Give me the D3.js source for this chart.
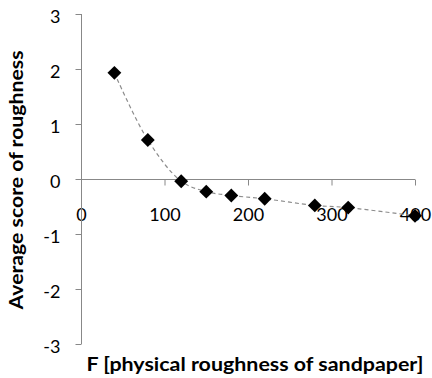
<!DOCTYPE html>
<html>
<head>
<meta charset="utf-8">
<script src="https://cdn.jsdelivr.net/npm/d3@7"></script>
<style>
  body { margin: 0; background: #fff; }
  text { font-family: Lato, "Open Sans", sans-serif; fill: #000; }
</style>
</head>
<body>
<div id="chart"></div>
<script>
// sandpaper grit vs average roughness score
const gritValues = [40, 80, 120, 150, 180, 220, 280, 320, 400];
const scoreValues = [1.93, 0.71, -0.04, -0.23, -0.3, -0.36, -0.48, -0.52, -0.67];
const xTicks = [0, 100, 200, 300, 400];
const yTicks = [-3, -2, -1, 0, 1, 2, 3];

const width = 432, height = 378;

const svg = d3.select('#chart').append('svg')
    .attr('width', width)
    .attr('height', height);

const x = d3.scaleLinear().domain([0, 400]).range([81, 415]);
const y = d3.scaleLinear().domain([-3, 3]).range([344, 14]);

const axisColor = '#888888';
// plain hyphen for negatives, like the original
const fmt = d => String(d);

// x axis sits at y = 0
const xAxis = d3.axisBottom(x).tickValues(xTicks).tickSize(6).tickFormat(fmt);
const gx = svg.append('g')
    .attr('transform', 'translate(0,' + (Math.round(y(0)) + 0.5) + ')')
    .call(xAxis);
gx.select('.domain').attr('stroke', axisColor).attr('d', 'M' + x(0) + ',0H' + x(400));
gx.selectAll('.tick line').attr('stroke', axisColor);
gx.selectAll('.tick').filter(d => d === 0).select('line').remove();
gx.selectAll('.tick text')
    .attr('y', 42 - 0.5)
    .attr('dy', 0)
    .style('font-size', '18px');

// x tick labels go under the y axis line
gx.lower();

const yAxis = d3.axisLeft(y).tickValues(yTicks).tickSize(6).tickFormat(fmt);
const gy = svg.append('g')
    .attr('transform', 'translate(' + (Math.round(x(0)) + 0.5) + ',0)')
    .call(yAxis);
gy.select('.domain').attr('stroke', axisColor).attr('d', 'M0,' + y(3) + 'V' + y(-3));
gy.selectAll('.tick line').attr('stroke', axisColor);
gy.selectAll('.tick text')
    .attr('x', -21)
    .attr('dy', 8)
    .style('font-size', '18px')
    .style('text-anchor', 'end');

svg.selectAll('.domain').attr('stroke-width', 1);

// dashed smoothed line
const pts = gritValues.map((g, i) => [g, scoreValues[i]]);
const line = d3.line()
    .x(d => x(d[0]))
    .y(d => y(d[1]))
    .curve(d3.curveCatmullRom.alpha(0.5));

svg.append('path')
    .datum(pts)
    .attr('d', line)
    .attr('fill', 'none')
    .attr('stroke', '#8c8c8c')
    .attr('stroke-width', 1.2)
    .attr('stroke-dasharray', '4,3');

// diamond markers
svg.selectAll('.pt')
    .data(pts)
    .enter().append('path')
    .attr('class', 'pt')
    .attr('d', d3.symbol().type(d3.symbolSquare).size(96))
    .attr('transform', d => 'translate(' + x(d[0]) + ',' + y(d[1]) + ') rotate(45)')
    .attr('fill', '#000');

// axis titles
svg.append('text')
    .attr('x', 255)
    .attr('y', 371)
    .attr('text-anchor', 'middle')
    .attr('textLength', 337)
    .attr('lengthAdjust', 'spacingAndGlyphs')
    .style('font-size', '18px')
    .style('font-weight', 'bold')
    .text('F [physical roughness of sandpaper]');

svg.append('text')
    .attr('transform', 'translate(23,180) rotate(-90)')
    .attr('text-anchor', 'middle')
    .attr('textLength', 259)
    .attr('lengthAdjust', 'spacingAndGlyphs')
    .style('font-size', '18px')
    .style('font-weight', 'bold')
    .text('Average score of roughness');
</script>
</body>
</html>
